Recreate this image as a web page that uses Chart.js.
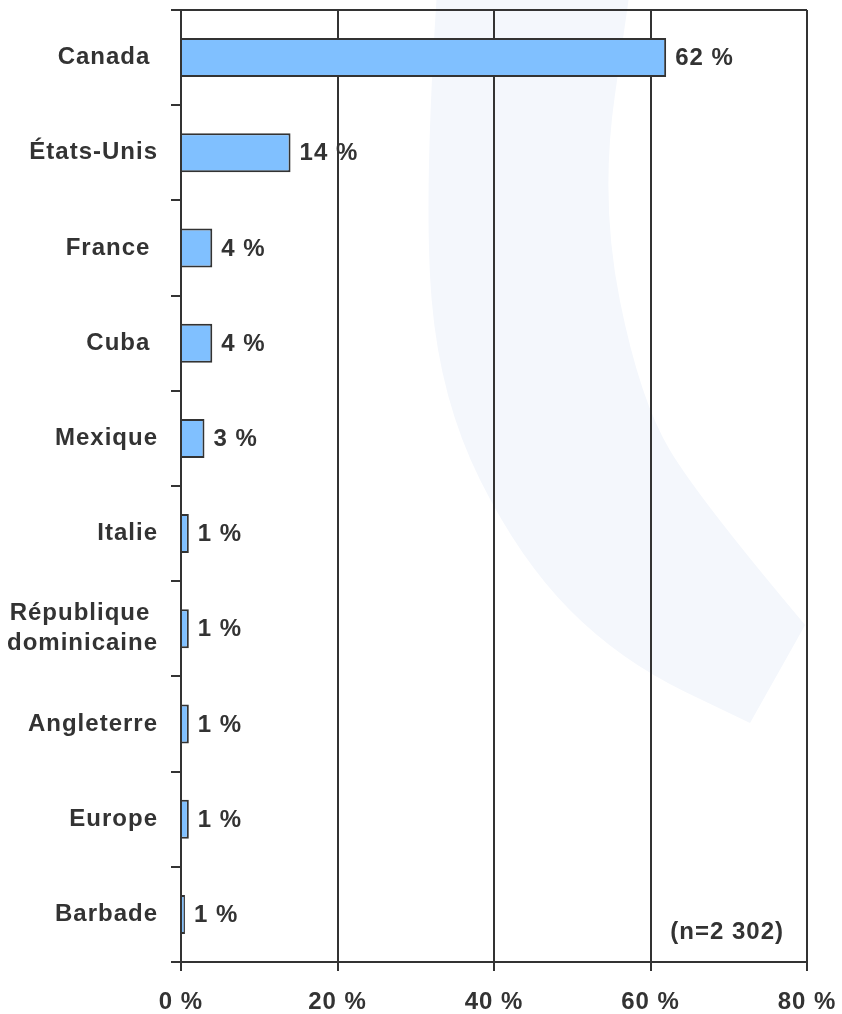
<!DOCTYPE html>
<html lang="fr">
<head>
<meta charset="utf-8">
<title>Destinations</title>
<script src="https://cdn.jsdelivr.net/npm/chart.js@4.4.1/dist/chart.umd.min.js"></script>
<style>
  html, body { margin: 0; padding: 0; background: #fff; }
  #wrap { width: 842px; height: 1014px; }
</style>
</head>
<body>
<div id="wrap"><canvas id="destChart" width="842" height="1014"></canvas></div>
<script>
// ── Data ────────────────────────────────────────────
const COUNTRIES = [
  'Canada ',
  'États-Unis',
  'France ',
  'Cuba ',
  'Mexique',
  'Italie',
  ['République ', 'dominicaine'],
  'Angleterre',
  'Europe',
  'Barbade',
];
const SHARES = [62, 14, 4, 4, 3, 1, 1, 1, 1, 0.5];
const X_TICKS = [0, 20, 40, 60, 80];
const SAMPLE_NOTE = '(n=2 302)';

// ── Style ───────────────────────────────────────────
const INK = '#333333';
const BAR_FILL = '#80c0ff';
const WATERMARK = 'rgb(244, 247, 252)';
const FONT = { family: "'Liberation Sans', Arial, sans-serif", size: 24, weight: 'bold', lineHeight: 1.25 };

// ── Plugins ─────────────────────────────────────────
// faint logo arc behind the plot (also sets the loose letter spacing for all text)
const watermarkPlugin = {
  id: 'watermark',
  beforeInit(chart) {
    chart.ctx.letterSpacing = '1px';
  },
  beforeDraw(chart) {
    const { ctx, chartArea: a } = chart;
    ctx.letterSpacing = '1px';
    const p = (fx, fy) => [a.left + fx * a.width, a.top + fy * a.height];
    const pts = [
      p(0.409, -0.02), p(0.387, 0.2), p(0.414, 0.41), p(0.542, 0.578),
      p(0.701, 0.683), p(0.909, 0.749), p(0.997, 0.646), p(0.829, 0.515),
      p(0.733, 0.41), p(0.669, 0.2), p(0.717, -0.02),
    ];
    ctx.save();
    ctx.fillStyle = WATERMARK;
    ctx.beginPath();
    ctx.moveTo(pts[0][0], pts[0][1]);
    // outer edge smoothed, then a straight cut, then inner edge smoothed
    for (let i = 1; i < 5; i++) {
      const mx = (pts[i][0] + pts[i + 1][0]) / 2;
      const my = (pts[i][1] + pts[i + 1][1]) / 2;
      ctx.quadraticCurveTo(pts[i][0], pts[i][1], mx, my);
    }
    ctx.lineTo(pts[5][0], pts[5][1]);
    ctx.lineTo(pts[6][0], pts[6][1]);
    for (let i = 7; i < pts.length - 1; i++) {
      const mx = (pts[i][0] + pts[i + 1][0]) / 2;
      const my = (pts[i][1] + pts[i + 1][1]) / 2;
      ctx.quadraticCurveTo(pts[i][0], pts[i][1], mx, my);
    }
    ctx.lineTo(pts[pts.length - 1][0], pts[pts.length - 1][1]);
    ctx.closePath();
    ctx.fill();
    ctx.restore();
  },
};

// top frame line, value labels and sample size
const annotatePlugin = {
  id: 'annotate',
  afterDatasetsDraw(chart) {
    const { ctx, chartArea: a } = chart;
    ctx.save();
    ctx.strokeStyle = INK;
    ctx.lineWidth = 2;
    ctx.beginPath();
    ctx.moveTo(a.left, a.top);
    ctx.lineTo(a.right, a.top);
    ctx.stroke();

    ctx.fillStyle = INK;
    ctx.font = `bold ${FONT.size}px ${FONT.family}`;
    ctx.textBaseline = 'middle';
    ctx.textAlign = 'left';
    chart.getDatasetMeta(0).data.forEach((bar, i) => {
      ctx.fillText(`${Math.round(SHARES[i])} %`, bar.x + 9, bar.y + 1);
    });

    ctx.textAlign = 'right';
    ctx.fillText(SAMPLE_NOTE, a.right - 23, a.bottom - 30);
    ctx.restore();
  },
};

// scales reserve half a label of room at their ends; the layout padding handles that here
function fixScale(scale, size) {
  if (scale.isHorizontal()) scale.height = size;
  else scale.width = size;
  scale.paddingTop = 0;
  scale.paddingBottom = 0;
  scale.paddingLeft = 0;
  scale.paddingRight = 0;
}

// ── Chart ───────────────────────────────────────────
const ctx = document.getElementById('destChart').getContext('2d');
new Chart(ctx, {
  type: 'bar',
  data: {
    labels: COUNTRIES,
    datasets: [{
      data: SHARES,
      backgroundColor: BAR_FILL,
      borderColor: INK,
      borderWidth: 2,
      barPercentage: 0.41,
      categoryPercentage: 1,
    }],
  },
  plugins: [watermarkPlugin, annotatePlugin],
  options: {
    indexAxis: 'y',
    responsive: false,
    animation: false,
    layout: { padding: { top: 10, right: 35, left: 0, bottom: 0 } },
    plugins: {
      legend: { display: false },
      tooltip: { enabled: false },
    },
    scales: {
      x: {
        min: X_TICKS[0],
        max: X_TICKS[X_TICKS.length - 1],
        afterBuildTicks: (scale) => { scale.ticks = X_TICKS.map((v) => ({ value: v })); },
        afterFit: (scale) => fixScale(scale, 52),
        grid: { color: INK, lineWidth: 2, tickLength: 9 },
        border: { color: INK, width: 2 },
        ticks: {
          color: INK,
          font: FONT,
          padding: 16,
          callback: (v) => `${v} %`,
        },
      },
      y: {
        afterFit: (scale) => fixScale(scale, 181),
        grid: { color: INK, lineWidth: 2, tickLength: 10, drawOnChartArea: false, offset: true },
        border: { color: INK, width: 2 },
        ticks: { color: INK, font: FONT, padding: 13 },
      },
    },
  },
});
</script>
</body>
</html>
